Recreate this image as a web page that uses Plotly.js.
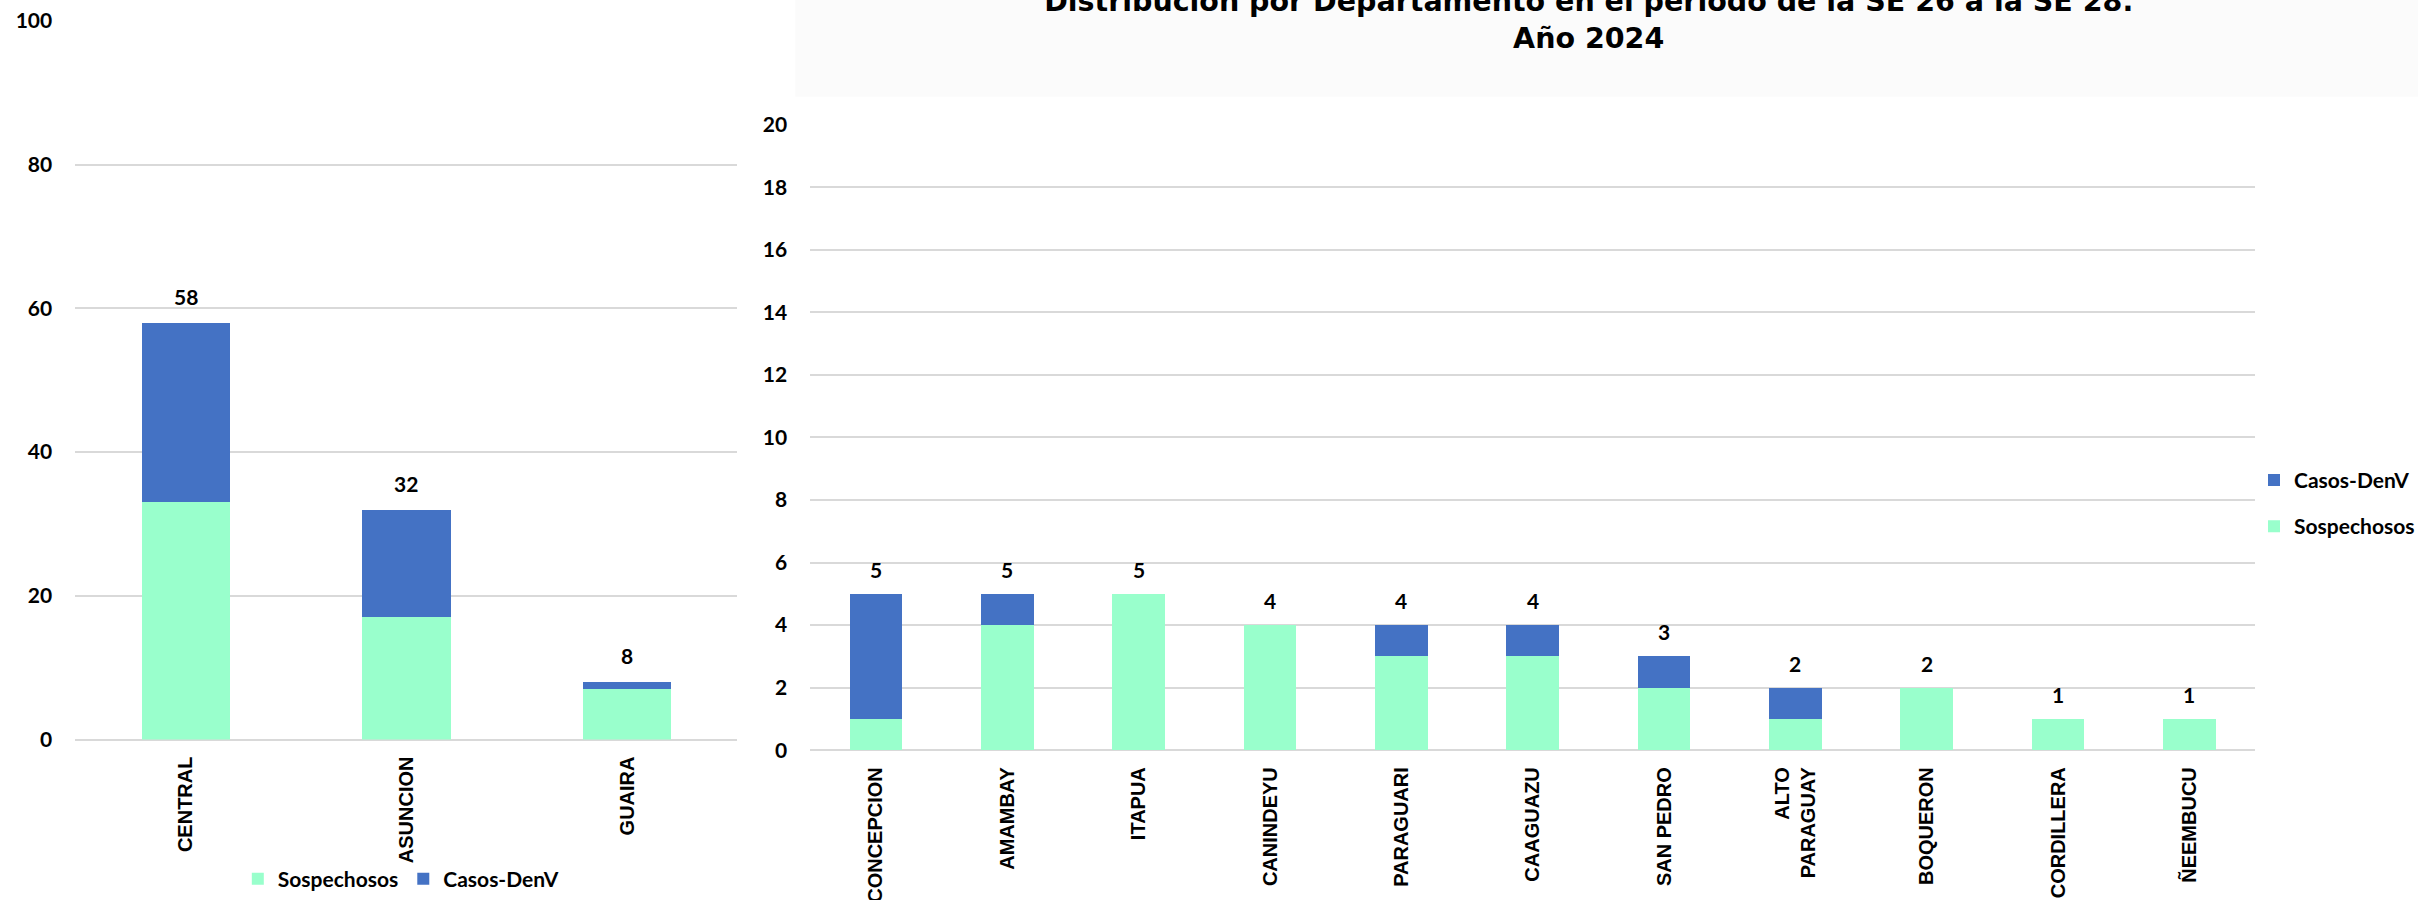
<!DOCTYPE html>
<html>
<head>
<meta charset="utf-8">
<script src="https://cdn.plot.ly/plotly-3.0.1.min.js"></script>
<style>html,body{margin:0;padding:0;background:#fff;}#chart{width:2420px;height:900px;}</style>
</head>
<body>
<div id="chart"></div>
<script>
// ---- data ----
const leftCats = ['CENTRAL', 'ASUNCION', 'GUAIRA'];
const leftSospechosos = [33, 17, 7];
const leftCasos = [25, 15, 1];

const rightCats = ['CONCEPCION', 'AMAMBAY', 'ITAPUA', 'CANINDEYU', 'PARAGUARI', 'CAAGUAZU',
                   'SAN PEDRO', 'ALTO<br>PARAGUAY', 'BOQUERON', 'CORDILLERA', 'ÑEEMBUCU'];
const rightSospechosos = [1, 4, 5, 4, 3, 3, 2, 1, 2, 1, 1];
const rightCasos = [4, 1, 0, 0, 1, 1, 1, 1, 0, 0, 0];

const titleText = 'Distribución por Departamento en el periodo de la SE 26 a la SE 28.<br>Año 2024';
const seriesNames = ['Sospechosos', 'Casos-DenV'];

// ---- styling ----
const W = 2420, H = 900;
const GREEN = '#99FFCC', BLUE = '#4472C4', GRID = '#d9d9d9';
const numFont = {family: 'Lato, "Open Sans", sans-serif', size: 21, color: '#000', weight: 700};
const catFont = {family: '"Liberation Sans", Arial, sans-serif', size: 20, color: '#000', weight: 700};

const px = v => v / W;
const py = v => (H - v) / H;

const leftTotals = leftCats.map((c, i) => leftSospechosos[i] + leftCasos[i]);
const rightTotals = rightCats.map((c, i) => rightSospechosos[i] + rightCasos[i]);

const traces = [
  {type: 'bar', x: leftCats, y: leftSospechosos, name: seriesNames[0], marker: {color: GREEN, line: {width: 0}},
   xaxis: 'x', yaxis: 'y', legend: 'legend'},
  {type: 'bar', x: leftCats, y: leftCasos, name: seriesNames[1], marker: {color: BLUE, line: {width: 0}},
   xaxis: 'x', yaxis: 'y', legend: 'legend'},
  {type: 'bar', x: rightCats, y: rightSospechosos, name: seriesNames[0], marker: {color: GREEN, line: {width: 0}},
   xaxis: 'x2', yaxis: 'y2', legend: 'legend2', legendgroup: 'r1', legendrank: 2},
  {type: 'bar', x: rightCats, y: rightCasos, name: seriesNames[1], marker: {color: BLUE, line: {width: 0}},
   xaxis: 'x2', yaxis: 'y2', legend: 'legend2', legendgroup: 'r2', legendrank: 1}
];

const annotations = [];
leftCats.forEach((c, i) => annotations.push({
  x: c, y: leftTotals[i], xref: 'x', yref: 'y', text: String(leftTotals[i]), showarrow: false,
  yanchor: 'bottom', yshift: 12, font: numFont
}));
rightCats.forEach((c, i) => annotations.push({
  x: c, y: rightTotals[i], xref: 'x2', yref: 'y2', text: String(rightTotals[i]), showarrow: false,
  yanchor: 'bottom', yshift: 10, font: numFont
}));

const yCommon = {
  showgrid: true, gridcolor: GRID, gridwidth: 2, zeroline: true, zerolinecolor: GRID, zerolinewidth: 2,
  showline: false, ticks: 'outside', ticklen: 18, tickcolor: 'rgba(0,0,0,0)', tickfont: numFont, fixedrange: true
};
const xCommon = {
  type: 'category', showgrid: false, zeroline: false, showline: false, tickangle: -90,
  ticks: 'outside', ticklen: 8, tickcolor: 'rgba(0,0,0,0)', tickfont: catFont, fixedrange: true
};

const layout = {
  width: W, height: H,
  margin: {l: 0, r: 0, t: 0, b: 0},
  paper_bgcolor: '#fff', plot_bgcolor: 'rgba(0,0,0,0)',
  barmode: 'stack', bargap: 0.6,
  title: {text: titleText, font: {family: '"DejaVu Sans", sans-serif', size: 28.5, color: '#000', weight: 700},
          x: 1590 / W, xanchor: 'center', xref: 'paper', y: py(11), yanchor: 'bottom', yref: 'paper'},
  xaxis: Object.assign({}, xCommon, {domain: [px(75.5), px(738)], anchor: 'y'}),
  yaxis: Object.assign({}, yCommon, {domain: [py(742), py(21)], range: [0, 100], dtick: 20, tick0: 0, anchor: 'x'}),
  xaxis2: Object.assign({}, xCommon, {domain: [px(811), px(2257)], anchor: 'y2'}),
  yaxis2: Object.assign({}, yCommon, {domain: [py(752.7), py(125)], range: [0, 20], dtick: 2, tick0: 0, anchor: 'x2'}),
  legend: {orientation: 'h', x: px(238), xanchor: 'left', y: py(882), yanchor: 'middle',
           font: numFont, traceorder: 'normal', bgcolor: 'rgba(0,0,0,0)'},
  legend2: {orientation: 'v', x: px(2256), xanchor: 'left', y: py(505), yanchor: 'middle',
            font: numFont, traceorder: 'grouped', tracegroupgap: 16, bgcolor: 'rgba(0,0,0,0)'},
  shapes: [
    {type: 'rect', xref: 'paper', yref: 'paper', x0: px(796), x1: 1, y0: py(97), y1: 1,
     fillcolor: '#fbfbfb', line: {width: 0}, layer: 'below'}
  ],
  annotations: annotations,
  hovermode: false
};

Plotly.newPlot('chart', traces, layout, {displayModeBar: false, staticPlot: true});
</script>
</body>
</html>
